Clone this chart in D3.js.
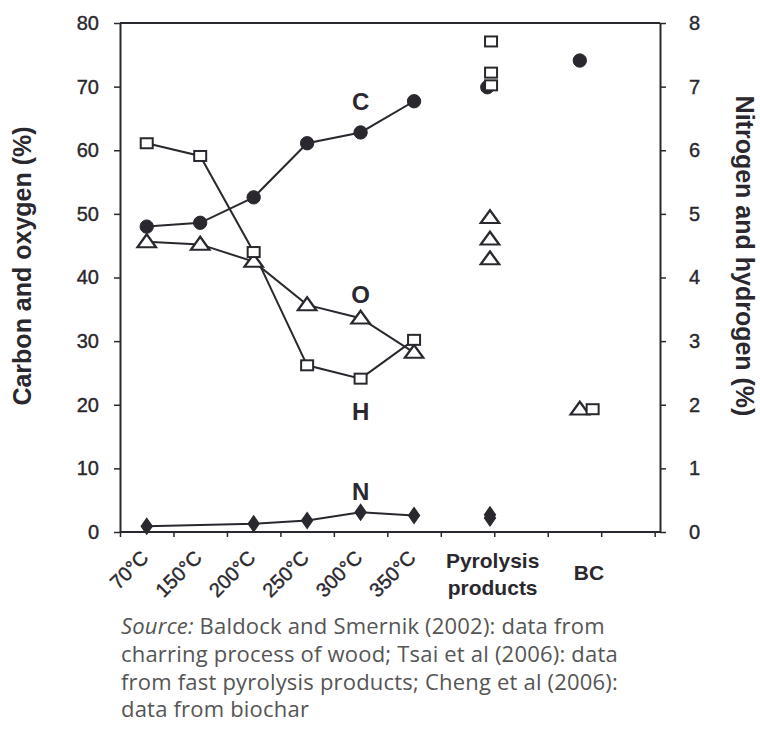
<!DOCTYPE html>
<html>
<head>
<meta charset="utf-8">
<script src="https://cdn.jsdelivr.net/npm/d3@7"></script>
<style>
  html, body { margin: 0; padding: 0; background: #fff; }
  svg { display: block; }
</style>
</head>
<body>
<svg id="chart" width="760" height="739"></svg>
<script>
// ---------- data ----------
const tempCategories = ["70°C", "150°C", "200°C", "250°C", "300°C", "350°C"];
const carbon   = [48.0, 48.6, 52.6, 61.1, 62.8, 67.7];          // left axis (%)
const oxygen   = [45.6, 45.2, 42.5, 35.7, 33.6, 28.2];          // left axis (%)
const hydrogen = [6.11, 5.91, 4.40, 2.62, 2.41, 3.02];          // right axis (%)
const nitrogen = [0.09, null, 0.13, 0.18, 0.31, 0.26];          // right axis (%)

const pyroCarbon   = [69.9];
const pyroOxygen   = [49.4, 46.0, 42.9];
const pyroHydrogen = [7.71, 7.22, 7.02];
const pyroNitrogen = [0.27, 0.22];

const bcCarbon   = [74.1];
const bcOxygen   = [19.3];
const bcHydrogen = [1.93];

const leftTicks  = [0, 10, 20, 30, 40, 50, 60, 70, 80];
const rightTicks = [0, 1, 2, 3, 4, 5, 6, 7, 8];
const groupLabels = [["Pyrolysis", "products"], ["BC"]];
const sourceLines = [
  "Baldock and Smernik (2002): data from",
  "charring process of wood; Tsai et al (2006): data",
  "from fast pyrolysis products; Cheng et al (2006):",
  "data from biochar"
];

(function () {
// ---------- layout ----------
const INK = "#2a282e";
const svg = d3.select("#chart");
svg.append("rect").attr("width", 760).attr("height", 739).attr("fill", "#fff");

const pL = 120, pR = 660, pT = 23, pB = 532;
const x  = d3.scaleLinear().domain([0, 10.1]).range([pL, pR]);
const yL = d3.scaleLinear().domain([0, 80]).range([pB, pT]);
const yR = d3.scaleLinear().domain([0, 8]).range([pB, pT]);

// category slot positions (x-domain units)
const tempPos = tempCategories.map((d, i) => i + 0.5);
const pyroPos = 6.92;
const bcPos = 8.6;
const bcPosH = 8.84;
const pyroLabelPos = 6.97;
const bcLabelPos = 8.77;

// frame top
svg.append("line").attr("x1", pL).attr("x2", pR).attr("y1", pT).attr("y2", pT)
  .attr("stroke", INK).attr("stroke-width", 2);

const gL = svg.append("g").attr("transform", `translate(${pL},0)`)
  .call(d3.axisLeft(yL).tickValues(leftTicks).tickSize(6).tickPadding(15).tickSizeOuter(0));
const gR = svg.append("g").attr("transform", `translate(${pR},0)`)
  .call(d3.axisRight(yR).tickValues(rightTicks).tickSize(6).tickPadding(23).tickSizeOuter(0));
const gB = svg.append("g").attr("transform", `translate(0,${pB})`)
  .call(d3.axisBottom(x).tickValues(d3.range(0, 11)).tickSize(5).tickFormat("").tickSizeOuter(0));

[gL, gR, gB].forEach(g => {
  g.select(".domain").attr("stroke", INK).attr("stroke-width", 2);
  g.selectAll(".tick line").attr("stroke", INK).attr("stroke-width", 1.5);
  g.selectAll(".tick text").attr("fill", INK).attr("stroke", INK).attr("stroke-width", 0.4)
    .style("font-family", "Arial, 'Liberation Sans', sans-serif").style("font-size", "20px");
});
gB.select(".domain").attr("d", `M${pL},0H${pR}`);

// temperature labels (rotated)
svg.append("g").selectAll("text").data(tempCategories).join("text")
  .attr("transform", (d, i) => `translate(${x(tempPos[i]) + 3},${pB + 27}) rotate(-45)`)
  .attr("text-anchor", "end")
  .attr("fill", INK).attr("stroke", INK).attr("stroke-width", 0.4)
  .style("font-family", "Arial, 'Liberation Sans', sans-serif").style("font-size", "20px")
  .text(d => d);

// group labels
const gl = svg.append("g").style("font-family", "Arial, 'Liberation Sans', sans-serif")
  .style("font-size", "21px").style("font-weight", "bold").attr("fill", INK).attr("text-anchor", "middle");
gl.append("text").attr("x", x(pyroLabelPos)).attr("y", pB + 36)
  .selectAll("tspan").data(groupLabels[0]).join("tspan")
  .attr("x", x(pyroLabelPos)).attr("dy", (d, i) => i === 0 ? 0 : 27).text(d => d);
gl.append("text").attr("x", x(bcLabelPos)).attr("y", pB + 48).text(groupLabels[1][0]);

// axis titles
const titleStyle = s => s.style("font-family", "Arial, 'Liberation Sans', sans-serif")
  .style("font-size", "25px").style("font-weight", "bold").attr("fill", INK).attr("text-anchor", "middle");
svg.append("text").call(titleStyle)
  .attr("transform", `translate(31,266) rotate(-90)`).text("Carbon and oxygen (%)");
svg.append("text").call(titleStyle)
  .attr("transform", `translate(736,256) rotate(90)`).text("Nitrogen and hydrogen (%)");

// ---------- lines ----------
const lineL = d3.line().x(d => x(d.p)).y(d => yL(d.v));
const lineR = d3.line().x(d => x(d.p)).y(d => yR(d.v));
const pts = arr => arr.map((v, i) => ({ p: tempPos[i], v })).filter(d => d.v != null);
const plot = svg.append("g");
[[carbon, lineL], [oxygen, lineL], [hydrogen, lineR], [nitrogen, lineR]].forEach(([arr, ln]) => {
  plot.append("path").attr("d", ln(pts(arr))).attr("fill", "none")
    .attr("stroke", INK).attr("stroke-width", 2);
});

// ---------- markers ----------
const sym = {
  circle: d3.symbol().type(d3.symbolCircle).size(140),
  triangle: d3.symbol().type(d3.symbolTriangle).size(95),
  diamond: d3.symbol().type(d3.symbolDiamond).size(75)
};
function drawCircles(data, y) {
  plot.append("g").selectAll("path").data(data).join("path")
    .attr("d", sym.circle()).attr("transform", d => `translate(${x(d.p)},${y(d.v)})`)
    .attr("fill", INK).attr("stroke", INK).attr("stroke-width", 1);
}
function drawTriangles(data, y) {
  plot.append("g").selectAll("path").data(data).join("path")
    .attr("d", sym.triangle()).attr("transform", d => `translate(${x(d.p)},${y(d.v) + 1}) scale(1.25,1)`)
    .attr("fill", "#fff").attr("stroke", INK).attr("stroke-width", 2);
}
function drawDiamonds(data, y) {
  plot.append("g").selectAll("path").data(data).join("path")
    .attr("d", sym.diamond()).attr("transform", d => `translate(${x(d.p)},${y(d.v)}) scale(1.2,1)`)
    .attr("fill", INK).attr("stroke", INK).attr("stroke-width", 1);
}
function drawSquares(data, y) {
  plot.append("g").selectAll("rect").data(data).join("rect")
    .attr("x", d => x(d.p) - 6).attr("y", d => y(d.v) - 5).attr("width", 12).attr("height", 10)
    .attr("fill", "#fff").attr("stroke", INK).attr("stroke-width", 2);
}

drawCircles(pts(carbon), yL);
drawTriangles(pts(oxygen), yL);
drawSquares(pts(hydrogen), yR);
drawDiamonds(pts(nitrogen), yR);

drawCircles(pyroCarbon.map(v => ({ p: pyroPos - 0.05, v })), yL);
drawTriangles(pyroOxygen.map(v => ({ p: pyroPos, v })), yL);
drawSquares(pyroHydrogen.map(v => ({ p: pyroPos + 0.02, v })), yR);
drawDiamonds(pyroNitrogen.map(v => ({ p: pyroPos, v })), yR);

drawCircles(bcCarbon.map(v => ({ p: bcPos, v })), yL);
drawTriangles(bcOxygen.map(v => ({ p: bcPos, v })), yL);
drawSquares(bcHydrogen.map(v => ({ p: bcPosH, v })), yR);

// series letters
const letters = [["C", 66.3], ["O", 36.0], ["H", 17.6], ["N", 5.1]];
svg.append("g").selectAll("text").data(letters).join("text")
  .attr("x", x(4.5)).attr("y", d => yL(d[1])).attr("text-anchor", "middle")
  .attr("fill", INK).style("font-family", "Arial, 'Liberation Sans', sans-serif")
  .style("font-size", "24px").style("font-weight", "bold").text(d => d[0]);

// ---------- source note ----------
const note = svg.append("g").attr("fill", "#555")
  .style("font-family", "'Open Sans', Lato, sans-serif").style("font-size", "22px")
  .style("letter-spacing", "0.2px");
sourceLines.forEach((line, i) => {
  const t = note.append("text").attr("x", 121).attr("y", 634 + i * 27.8);
  if (i === 0) {
    t.append("tspan").style("font-style", "italic").text("Source:");
    t.append("tspan").text(" " + line);
  } else {
    t.text(line);
  }
});
})();
</script>
</body>
</html>
